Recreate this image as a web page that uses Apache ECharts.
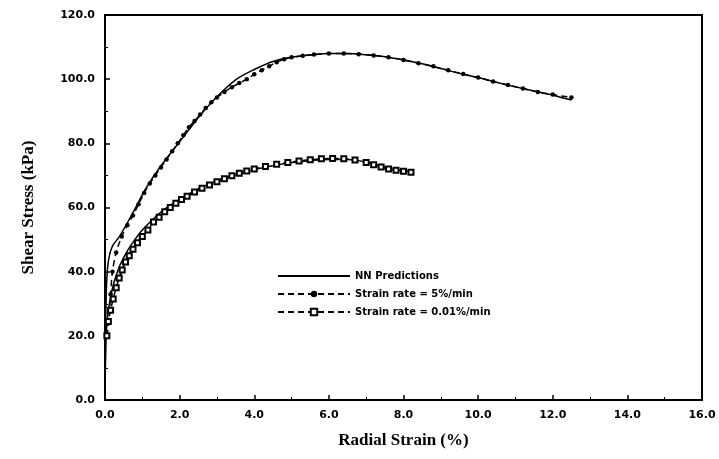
<!DOCTYPE html>
<html><head><meta charset="utf-8">
<script src="https://cdn.jsdelivr.net/npm/echarts@6/dist/echarts.min.js"></script>
<style>html,body{margin:0;padding:0;background:#fff}#c{width:719px;height:459px}</style>
</head><body><div id="c"></div>
<script>
const xTicks = [0, 2, 4, 6, 8, 10, 12, 14, 16];
const yTicks = [0, 20, 40, 60, 80, 100, 120];
const seriesNames = ['NN Predictions', 'Strain rate = 5%/min', 'Strain rate = 0.01%/min'];

const nnFast = [[0,0],[0.02,25],[0.05,38],[0.1,44],[0.2,48],[0.36,50.5],[0.54,54],[0.8,59.5],[1.07,65.5],[1.5,73],[2.0,80.5],[2.5,88],[3.0,94.5],[3.5,99.8],[4.0,103],[4.5,105.5],[5.0,106.8],[5.5,107.5],[6.0,108],[6.5,108],[7.0,107.6],[7.5,107],[8.0,106],[8.5,104.8],[9.0,103.3],[9.5,101.8],[10.0,100.5],[10.5,99],[11.0,97.6],[11.5,96.3],[12.0,95],[12.5,93.5]];
const dataFast = [[0.05,20],[0.1,24],[0.15,33],[0.2,40],[0.3,46],[0.45,51],[0.6,54.5],[0.75,57.5],[0.9,61],[1.05,64.5],[1.2,67.5],[1.35,70],[1.5,72.5],[1.65,75],[1.8,77.5],[1.95,80],[2.1,82.5],[2.25,85],[2.4,87],[2.55,89],[2.7,91],[2.85,92.8],[3.0,94.3],[3.2,96],[3.4,97.5],[3.6,98.8],[3.8,100],[4.0,101.5],[4.2,102.8],[4.4,104],[4.6,105.3],[4.8,106.2],[5.0,106.8],[5.3,107.3],[5.6,107.7],[6.0,108],[6.4,108],[6.8,107.8],[7.2,107.4],[7.6,106.8],[8.0,106],[8.4,105],[8.8,104],[9.2,102.8],[9.6,101.6],[10.0,100.5],[10.4,99.3],[10.8,98.2],[11.2,97.1],[11.6,96],[12.0,95.2],[12.5,94.3]];
const nnSlow = [[0,0],[0.03,20],[0.08,27],[0.15,32],[0.25,37],[0.4,42],[0.6,46.5],[0.8,50],[1.0,53],[1.3,56.5],[1.6,59.5],[2.0,62.5],[2.5,65.8],[3.0,68.3],[3.5,70.2],[4.0,71.8],[4.5,73],[5.0,74],[5.5,74.6],[6.0,75],[6.5,75],[7.0,74.2],[7.3,73.2],[7.6,72.2],[7.9,71.6],[8.2,71.2]];
const dataSlow = [[0.05,20],[0.09,24.5],[0.15,28],[0.22,31.5],[0.3,35],[0.38,38],[0.46,40.5],[0.55,43],[0.65,45],[0.75,47],[0.87,49],[1.0,51],[1.15,53],[1.3,55.5],[1.45,57],[1.6,58.7],[1.75,60],[1.9,61.3],[2.05,62.5],[2.2,63.5],[2.4,64.8],[2.6,66],[2.8,67],[3.0,68],[3.2,69],[3.4,69.9],[3.6,70.7],[3.8,71.4],[4.0,72],[4.3,72.8],[4.6,73.5],[4.9,74],[5.2,74.5],[5.5,74.9],[5.8,75.2],[6.1,75.3],[6.4,75.2],[6.7,74.8],[7.0,74],[7.2,73.3],[7.4,72.6],[7.6,72],[7.8,71.6],[8.0,71.3],[8.2,71]];

const chart = echarts.init(document.getElementById('c'), null, {renderer:'canvas'});
const tickFont = {color:'#000', fontFamily:'DejaVu Sans', fontWeight:'bold', fontSize:11};
chart.setOption({
  animation:false,
  backgroundColor:'#fff',
  grid:{left:105, right:17, top:15, bottom:59, show:true, borderColor:'#000', borderWidth:2, backgroundColor:'transparent'},
  legend:{
    orient:'vertical', left:272, top:266, itemWidth:72, itemHeight:8, itemGap:8,
    data:[{name:seriesNames[0], itemStyle:{opacity:0}}, seriesNames[1], seriesNames[2]],
    textStyle:{color:'#000', fontFamily:'DejaVu Sans', fontWeight:'bold', fontSize:10}
  },
  xAxis:{
    type:'value', min:xTicks[0], max:xTicks[xTicks.length-1], interval:2,
    name:'Radial Strain (%)', nameLocation:'middle', nameGap:32,
    nameTextStyle:{color:'#000', fontFamily:'Liberation Serif', fontWeight:'bold', fontSize:17},
    axisLine:{lineStyle:{color:'#000', width:2}},
    axisTick:{inside:true, length:5, lineStyle:{color:'#000', width:1.5}},
    minorTick:{show:true, splitNumber:2, length:3, lineStyle:{color:'#000'}},
    axisLabel:Object.assign({margin:10, formatter:v=>v.toFixed(1)}, tickFont),
    splitLine:{show:false}
  },
  yAxis:{
    type:'value', min:yTicks[0], max:yTicks[yTicks.length-1], interval:20,
    name:'Shear Stress (kPa)', nameLocation:'middle', nameGap:68,
    nameTextStyle:{color:'#000', fontFamily:'Liberation Serif', fontWeight:'bold', fontSize:17},
    axisLine:{lineStyle:{color:'#000', width:2}},
    axisTick:{inside:true, length:5, lineStyle:{color:'#000', width:1.5}},
    minorTick:{show:true, splitNumber:2, length:3, lineStyle:{color:'#000'}},
    axisLabel:Object.assign({margin:10, formatter:v=>v.toFixed(1)}, tickFont),
    splitLine:{show:false}
  },
  series:[
    {name:seriesNames[0], type:'line', data:nnFast, smooth:0.3, showSymbol:false, symbol:'none',
     lineStyle:{color:'#000', width:1.5}, itemStyle:{color:'#000'}},
    {name:seriesNames[0], type:'line', data:nnSlow, smooth:0.3, showSymbol:false, symbol:'none',
     lineStyle:{color:'#000', width:1.5}, itemStyle:{color:'#000'}},
    {name:seriesNames[1], type:'line', data:dataFast, smooth:0.3, symbol:'circle', symbolSize:4.5,
     lineStyle:{color:'#000', width:1.5, type:[6,4]}, itemStyle:{color:'#000'}},
    {name:seriesNames[2], type:'line', data:dataSlow, smooth:0.3, symbol:'emptyRect', symbolSize:5,
     lineStyle:{color:'#000', width:1.5, type:[6,4]}, itemStyle:{color:'#000', borderColor:'#000', borderWidth:1.2}}
  ]
});
</script></body></html>
